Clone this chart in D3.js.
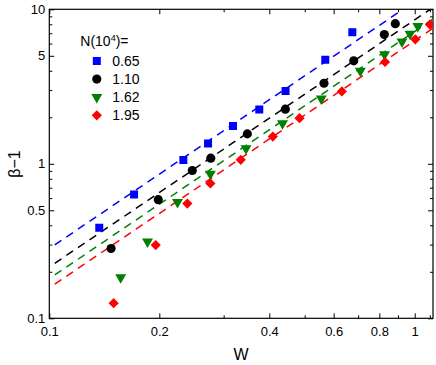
<!DOCTYPE html>
<html>
<head>
<meta charset="utf-8">
<script src="https://cdn.jsdelivr.net/npm/d3@7"></script>
<style>
  body { margin: 0; background: #fff; }
  svg { font-family: "Liberation Sans", Arial, sans-serif; }
</style>
</head>
<body>
<svg id="chart" width="436" height="365"></svg>
<script>
// series data (W, beta-1)
const seriesNames = ["0.65", "1.10", "1.62", "1.95"];
const seriesColors = ["#0000ff", "#000000", "#008000", "#ff0000"];

const blueW = [0.137, 0.1706, 0.2327, 0.2719, 0.3182, 0.3755, 0.4431, 0.5691, 0.6749];
const blueV = [0.385, 0.634, 1.058, 1.352, 1.758, 2.25, 2.962, 4.71, 7.10];

const blackW = [0.1476, 0.1987, 0.2462, 0.2766, 0.3483, 0.4425, 0.5645, 0.681, 0.8256, 0.8849];
const blackV = [0.283, 0.586, 0.905, 1.087, 1.562, 2.257, 3.32, 4.64, 6.86, 8.07];

const greenW = [0.1568, 0.1857, 0.2243, 0.2759, 0.3454, 0.4347, 0.555, 0.7099, 0.8267, 0.9231, 0.9708, 1.0197];
const greenV = [0.1839, 0.313, 0.565, 0.859, 1.259, 1.825, 2.638, 3.99, 5.11, 6.18, 6.93, 7.77];

const redW = [0.150, 0.1955, 0.2386, 0.2759, 0.3341, 0.409, 0.4838, 0.6318, 0.8294, 1.0038, 1.101];
const redV = [0.1252, 0.298, 0.553, 0.746, 1.061, 1.5, 1.975, 2.94, 4.56, 6.39, 7.96];

// power-law fits  beta-1 = A * W^b
const fitA = [11.25, 8.55, 7.19, 6.27];
const fitB = 1.6;
const fitRange = [0.1035, 1.2];

const xMajor = [0.1, 0.2, 0.4, 0.6, 0.8, 1];
const xMinor = [0.3, 0.5, 0.7, 0.9, 1.1];
const yMajor = [0.1, 0.5, 1, 5, 10];
const yMinor = [0.2, 0.3, 0.4, 0.6, 0.7, 0.8, 0.9, 2, 3, 4, 6, 7, 8, 9];

const allW = [blueW, blackW, greenW, redW];
const allV = [blueV, blackV, greenV, redV];

const margin = { left: 49.3, right: 3, top: 9.3, bottom: 46.7 };
const width = 436, height = 365;
const innerW = width - margin.left - margin.right;
const innerH = height - margin.top - margin.bottom;

const svg = d3.select("#chart");
const ctr = svg.append("g").attr("transform", `translate(${margin.left},${margin.top})`);

const x = d3.scaleLog().domain([0.1, 1.122]).range([0, innerW]);
const y = d3.scaleLog().domain([0.1, 10]).range([innerH, 0]);

svg.append("defs").append("clipPath").attr("id", "clip")
  .append("rect").attr("width", innerW).attr("height", innerH);

const fmt = (d) => String(d);

// axes: ticks point inward
const addAxis = (axis, transform, vals, size, labels) => {
  const g = ctr.append("g").attr("transform", transform)
    .call(axis.tickValues(vals).tickSizeInner(-size).tickSizeOuter(0)
      .tickFormat(labels ? fmt : () => ""));
  g.select(".domain").remove();
  g.selectAll("line").attr("stroke", "#000").attr("stroke-width", 1);
  return g;
};

const bx = addAxis(d3.axisBottom(x).tickPadding(8), `translate(0,${innerH})`, xMajor, 5, true);
bx.selectAll("text").attr("font-size", 13).attr("fill", "#000");
addAxis(d3.axisBottom(x), `translate(0,${innerH})`, xMinor, 3, false);
addAxis(d3.axisTop(x), "translate(0,0)", xMajor, 5, false);
addAxis(d3.axisTop(x), "translate(0,0)", xMinor, 3, false);

const ly = addAxis(d3.axisLeft(y).tickPadding(4), "translate(0,0)", yMajor, 5, true);
ly.selectAll("text").attr("font-size", 13).attr("fill", "#000");
addAxis(d3.axisLeft(y), "translate(0,0)", yMinor, 3, false);
addAxis(d3.axisRight(y), `translate(${innerW},0)`, yMajor, 5, false);
addAxis(d3.axisRight(y), `translate(${innerW},0)`, yMinor, 3, false);

ctr.append("rect").attr("width", innerW).attr("height", innerH)
  .attr("fill", "none").attr("stroke", "#000").attr("stroke-width", 1.2);

// fit lines
const plot = ctr.append("g").attr("clip-path", "url(#clip)");
const line = d3.line().x((d) => x(d[0])).y((d) => y(d[1]));
fitA.forEach((a, i) => {
  const pts = fitRange.map((w) => [w, a * Math.pow(w, fitB)]);
  plot.append("path").attr("d", line(pts))
    .attr("fill", "none").attr("stroke", seriesColors[i])
    .attr("stroke-width", 1.5).attr("stroke-dasharray", "8,6");
});

// markers
const symbols = [
  { type: d3.symbolSquare, size: 64, rot: 0 },
  { type: d3.symbolCircle, size: 66, rot: 0 },
  { type: d3.symbolTriangle, size: 52, rot: 180 },
  { type: d3.symbolSquare, size: 52, rot: 45 }
];

allW.forEach((ws, i) => {
  const pts = ws.map((w, j) => [w, allV[i][j]]);
  const s = symbols[i];
  plot.append("g").selectAll("path").data(pts).join("path")
    .attr("d", d3.symbol().type(s.type).size(s.size))
    .attr("transform", (d) => `translate(${x(d[0])},${y(d[1])}) rotate(${s.rot})`)
    .attr("fill", seriesColors[i]);
});

// legend
const leg = ctr.append("g").attr("transform", "translate(31,0)");
const title = leg.append("text").attr("x", 0).attr("y", 36.5).attr("font-size", 14);
title.append("tspan").text("N(10");
title.append("tspan").text("4").attr("font-size", 9).attr("dy", -5);
title.append("tspan").text(")=").attr("dy", 5);

seriesNames.forEach((n, i) => {
  const s = symbols[i];
  const yy = 51.7 + i * 18.1;
  leg.append("path")
    .attr("d", d3.symbol().type(s.type).size(s.size))
    .attr("transform", `translate(16.5,${yy}) rotate(${s.rot})`)
    .attr("fill", seriesColors[i]);
  leg.append("text").attr("x", 32).attr("y", yy + 5).attr("font-size", 14).text(n);
});

// axis titles
svg.append("text").attr("x", 241).attr("y", 360).attr("text-anchor", "middle")
  .attr("font-size", 16).text("W");
svg.append("text").attr("transform", "translate(20,164) rotate(-90)")
  .attr("text-anchor", "middle").attr("font-size", 16).text("β−1");
</script>
</body>
</html>
